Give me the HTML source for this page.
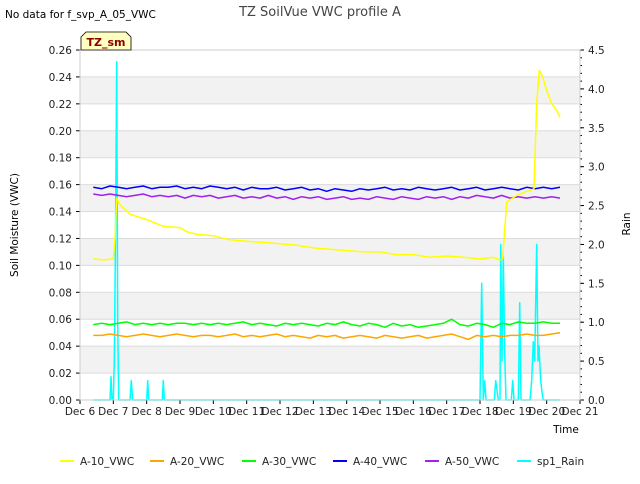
<!DOCTYPE html>
<html><head><meta charset="utf-8"><style>
body{margin:0;background:#fff;font-family:"DejaVu Sans","Liberation Sans",sans-serif;}
svg text{font-family:"DejaVu Sans","Liberation Sans",sans-serif;}
</style></head><body>
<svg id="chart" width="640" height="480" xmlns="http://www.w3.org/2000/svg">
<rect width="640" height="480" fill="#fff"/>
<g id="bands"></g><g id="grid"></g><g id="series"></g><g id="axes"></g>
<text x="5" y="18" font-size="10.5" fill="#000">No data for f_svp_A_05_VWC</text>
<text x="320" y="16" font-size="13" fill="#444" text-anchor="middle">TZ SoilVue VWC profile A</text>
<text transform="translate(18,225) rotate(-90)" font-size="10.5" text-anchor="middle">Soil Moisture (VWC)</text>
<text transform="translate(630,224) rotate(-90)" font-size="10.5" text-anchor="middle">Rain</text>
<text x="566" y="433" font-size="10.5" text-anchor="middle">Time</text>
<g>
<path d="M81,50 L81,37 L86,32 L126,32 L131,37 L131,50 Z" fill="#ffffc0" stroke="#000" stroke-width="0.8"/>
<text x="106" y="46" font-size="11" font-weight="bold" fill="#8b0000" text-anchor="middle">TZ_sm</text>
</g>
<g id="legend"></g>
</svg>
<script>
const days=["Dec 6","Dec 7","Dec 8","Dec 9","Dec 10","Dec 11","Dec 12","Dec 13","Dec 14","Dec 15","Dec 16","Dec 17","Dec 18","Dec 19","Dec 20","Dec 21"];
const yTicks=[0,0.02,0.04,0.06,0.08,0.10,0.12,0.14,0.16,0.18,0.20,0.22,0.24,0.26];
const y2Ticks=[0,0.5,1.0,1.5,2.0,2.5,3.0,3.5,4.0,4.5];
const startDay=0.4, step=0.25;
const a40=[0.158,0.157,0.159,0.158,0.157,0.158,0.159,0.157,0.158,0.158,0.159,0.157,0.158,0.157,0.159,0.158,0.157,0.158,0.156,0.158,0.157,0.157,0.158,0.156,0.157,0.158,0.156,0.157,0.155,0.157,0.156,0.155,0.157,0.156,0.157,0.158,0.156,0.157,0.156,0.158,0.157,0.156,0.157,0.158,0.156,0.157,0.158,0.156,0.157,0.158,0.157,0.156,0.158,0.157,0.158,0.157,0.158];
const a50=[0.153,0.152,0.153,0.152,0.151,0.152,0.153,0.151,0.152,0.151,0.152,0.150,0.152,0.151,0.152,0.150,0.151,0.152,0.150,0.151,0.150,0.152,0.150,0.151,0.149,0.151,0.150,0.151,0.149,0.150,0.151,0.149,0.150,0.149,0.151,0.150,0.149,0.151,0.150,0.149,0.151,0.150,0.151,0.149,0.151,0.150,0.152,0.151,0.150,0.152,0.150,0.151,0.150,0.151,0.150,0.151,0.150];
const a30=[0.056,0.057,0.056,0.057,0.058,0.056,0.057,0.056,0.057,0.056,0.057,0.057,0.056,0.057,0.056,0.057,0.056,0.057,0.058,0.056,0.057,0.056,0.055,0.057,0.056,0.057,0.056,0.055,0.057,0.056,0.058,0.056,0.055,0.057,0.056,0.054,0.057,0.055,0.056,0.054,0.055,0.056,0.057,0.060,0.056,0.055,0.057,0.056,0.054,0.057,0.056,0.058,0.057,0.057,0.058,0.057,0.057];
const a20=[0.048,0.048,0.049,0.048,0.047,0.048,0.049,0.048,0.047,0.048,0.049,0.048,0.047,0.048,0.048,0.047,0.048,0.049,0.047,0.048,0.047,0.048,0.049,0.047,0.048,0.047,0.046,0.048,0.047,0.048,0.046,0.047,0.048,0.047,0.046,0.048,0.047,0.046,0.047,0.048,0.046,0.047,0.048,0.049,0.047,0.045,0.048,0.047,0.048,0.047,0.048,0.048,0.049,0.048,0.048,0.049,0.050];
const a10Days=[0.4,0.7,1.0,1.05,1.1,1.2,1.5,2.0,2.5,3.0,3.2,3.5,4.0,4.5,5.0,5.5,6.0,6.5,7.0,7.5,8.0,8.5,9.0,9.5,10.0,10.5,11.0,11.5,12.0,12.4,12.6,12.68,12.8,13.1,13.4,13.55,13.62,13.7,13.78,13.88,14.0,14.15,14.3,14.4];
const a10=[0.105,0.104,0.105,0.12,0.15,0.145,0.138,0.134,0.129,0.128,0.125,0.123,0.122,0.119,0.118,0.117,0.116,0.115,0.113,0.112,0.111,0.110,0.110,0.108,0.108,0.106,0.107,0.106,0.105,0.106,0.104,0.105,0.147,0.152,0.155,0.156,0.157,0.22,0.245,0.240,0.230,0.220,0.215,0.210];
const rainDays=[0.4,0.9,0.93,0.96,1.0,1.03,1.06,1.1,1.13,1.16,1.5,1.54,1.58,2.0,2.03,2.06,2.47,2.5,2.53,12.0,12.05,12.1,12.14,12.18,12.43,12.47,12.55,12.6,12.62,12.66,12.7,12.74,12.78,12.94,12.98,13.02,13.15,13.19,13.23,13.5,13.55,13.6,13.64,13.7,13.74,13.77,13.82,13.86,13.9,14.4];
const rainVals=[0,0,0.3,0,0,0.5,1.8,4.35,1.0,0,0,0.25,0,0,0.25,0,0,0.25,0,0,1.5,0,0.25,0,0,0.25,0,0,2.0,0.5,1.85,0.6,0,0,0.25,0,0,1.25,0,0,0.25,0.75,0.5,2.0,0.5,0.7,0.25,0.1,0,0];
const L=80,R=580,T=50,B=400;
const xs=d=>L+d*(R-L)/15, ys=v=>B-v*(B-T)/0.26, ys2=v=>B-v*(B-T)/4.5;
const NS="http://www.w3.org/2000/svg";
function mk(tag,attrs,parent){const e=document.createElementNS(NS,tag);for(const k in attrs)e.setAttribute(k,attrs[k]);parent.appendChild(e);return e;}
const bands=document.getElementById('bands'),grid=document.getElementById('grid'),ser=document.getElementById('series'),ax=document.getElementById('axes'),leg=document.getElementById('legend');
for(let i=1;i<yTicks.length-1;i+=2){
 const r=mk('rect',{x:L,y:ys(yTicks[i+1]),width:R-L,height:ys(yTicks[i])-ys(yTicks[i+1]),fill:'#f2f2f2'},bands);
 
 
}
yTicks.forEach(v=>{
 const l=mk('line',{x1:L,x2:R,y1:ys(v),y2:ys(v),stroke:'#dcdcdc','stroke-width':1},grid);
 
 
 mk('line',{x1:L-4,x2:L,y1:ys(v),y2:ys(v),stroke:'#000'},ax);
 const t=mk('text',{x:L-8,y:ys(v)+4,'font-size':10.5,'text-anchor':'end',fill:'#222'},ax);t.textContent=v.toFixed(2);
 
 
});
y2Ticks.forEach(v=>{
 mk('line',{x1:R,x2:R+4,y1:ys2(v),y2:ys2(v),stroke:'#000'},ax);
 const t=mk('text',{x:R+8,y:ys2(v)+4,'font-size':10.5,fill:'#222'},ax);t.textContent=v.toFixed(1);
 
 
});
for(let v=0.1;v<4.5;v+=0.1){mk('line',{x1:R,x2:R+2,y1:ys2(v),y2:ys2(v),stroke:'#000'},ax);}
days.forEach((d,i)=>{
 mk('line',{x1:xs(i),x2:xs(i),y1:B,y2:B+4,stroke:'#000'},ax);
 const t=mk('text',{x:xs(i),y:B+15,'font-size':10.5,'text-anchor':'middle',fill:'#222'},ax);t.textContent=d;
 
 
});
mk('rect',{x:L,y:T,width:R-L,height:B-T,fill:'none',stroke:'#ccc'},ax);
function line(pts,color,name,w){
 const p=mk('polyline',{points:pts.map(q=>q[0].toFixed(1)+','+q[1].toFixed(1)).join(' '),fill:'none',stroke:color,'stroke-width':w||1.5,'stroke-linejoin':'round'},ser);
 
 
}
const idx=arr=>arr.map((v,i)=>[xs(startDay+i*step),ys(v)]);
line(rainDays.map((d,i)=>[xs(d),ys2(rainVals[i])]),'#00ffff','series-sp1-rain',1.5);
line(idx(a20),'#ffa500','series-a20-vwc');
line(idx(a30),'#00ff00','series-a30-vwc');
line(idx(a50),'#a020f0','series-a50-vwc');
line(idx(a40),'#0000ff','series-a40-vwc');
line(a10Days.map((d,i)=>[xs(d),ys(a10[i])]),'#ffff00','series-a10-vwc');
const legItems=[["A-10_VWC","#ffff00",60],["A-20_VWC","#ffa500",150],["A-30_VWC","#00ff00",242],["A-40_VWC","#0000ff",333],["A-50_VWC","#a020f0",425],["sp1_Rain","#00ffff",517]];
legItems.forEach(it=>{
 const g=mk('g',{},leg);
 
 
 mk('line',{x1:it[2],x2:it[2]+14,y1:461,y2:461,stroke:it[1],'stroke-width':2},g);
 const t=mk('text',{x:it[2]+20,y:465,'font-size':10.5,fill:'#222'},g);t.textContent=it[0];
});
</script>
</body></html>
